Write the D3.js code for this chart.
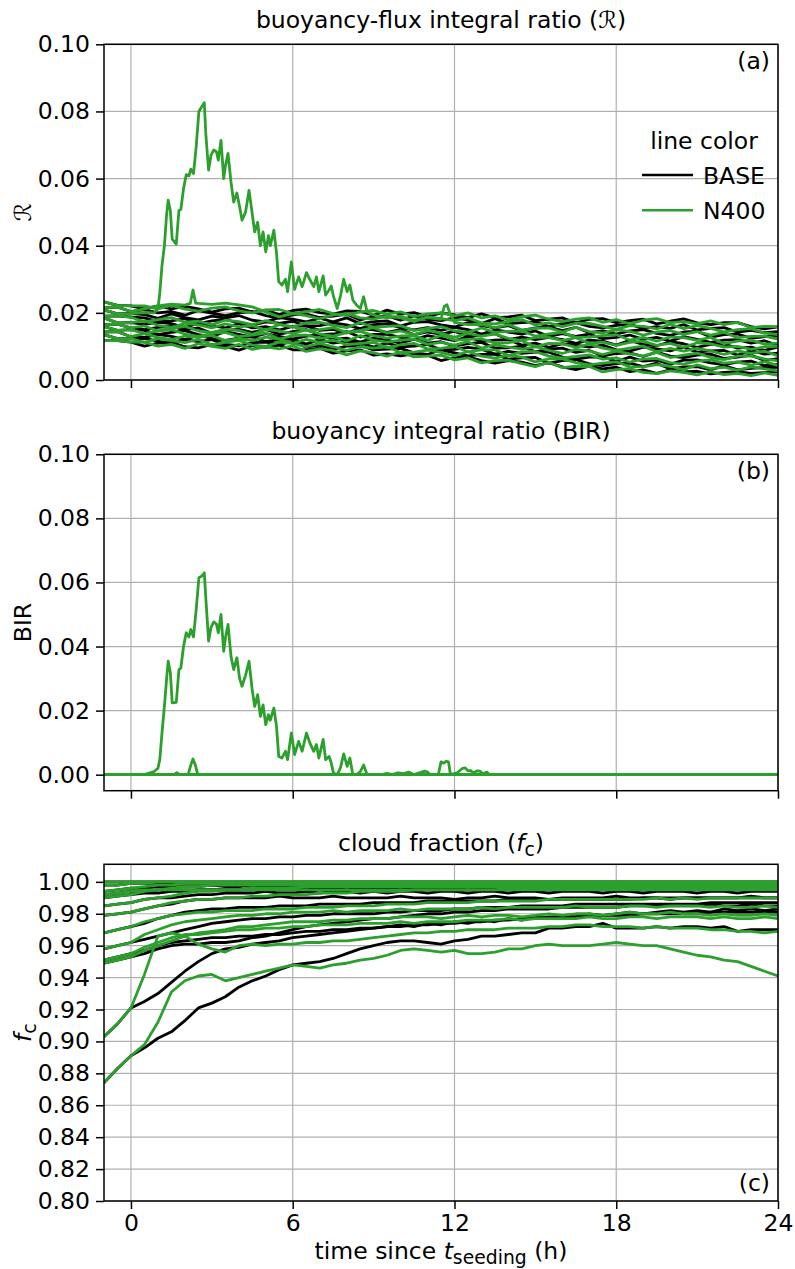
<!DOCTYPE html>
<html><head><meta charset="utf-8">
<script src="https://cdn.jsdelivr.net/npm/d3@7"></script>
<style>body{margin:0;background:#fff} text{font-family:"DejaVu Sans",sans-serif;fill:#000}</style>
</head><body><svg id="fig" width="795" height="1269"></svg>
<script>
// ---------------- DATA ----------------
const hours = [-1,-0.5,0,0.5,1,1.5,2,2.5,3,3.5,4,4.5,5,5.5,6,6.5,7,7.5,8,8.5,9,9.5,10,10.5,11,11.5,12,12.5,13,13.5,14,14.5,15,15.5,16,16.5,17,17.5,18,18.5,19,19.5,20,20.5,21,21.5,22,22.5,23,23.5,24];
const xTicks = [0,6,12,18,24];
const yTicksAB = [0,0.02,0.04,0.06,0.08,0.10];
const yTicksC = [0.80,0.82,0.84,0.86,0.88,0.90,0.92,0.94,0.96,0.98,1.00];
const seriesNames = ["BASE","N400"];

// panel (a): buoyancy-flux integral ratio R, ensemble members A1..A10 (b = BASE, n = N400)
const rA1n=[.0233,.0222,.0221,.0221,.0212,.0222,.0211,.0205,.0214,.0218,.0206,.0200,.0209,.0210,.0198,.0204,.0210,.0198,.0192,.0203,.0207,.0196,.0203,.0189,.0197,.0200,.0191,.0200,.0185,.0191,.0179,.0189,.0193,.0181,.0174,.0181,.0185,.0172,.0180,.0167,.0178,.0183,.0171,.0174,.0167,.0176,.0165,.0172,.0156,.0160,.0159];
const rA1b=[.0233,.0222,.0221,.0212,.0221,.0212,.0219,.0212,.0202,.0212,.0214,.0202,.0208,.0195,.0207,.0211,.0201,.0196,.0206,.0204,.0193,.0208,.0196,.0201,.0188,.0200,.0194,.0186,.0197,.0185,.0188,.0193,.0177,.0181,.0185,.0170,.0181,.0183,.0171,.0177,.0181,.0167,.0175,.0182,.0170,.0165,.0171,.0171,.0159,.0152,.0158];
const rA2n=[.0216,.0217,.0204,.0212,.0221,.0226,.0223,.0228,.0225,.0229,.0224,.0218,.0203,.0188,.0198,.0192,.0182,.0194,.0198,.0185,.0181,.0190,.0185,.0174,.0188,.0183,.0177,.0185,.0170,.0167,.0174,.0180,.0164,.0170,.0159,.0169,.0169,.0160,.0151,.0162,.0160,.0152,.0166,.0153,.0162,.0154,.0143,.0150,.0153,.0140,.0135];
const rA2nBumpHours=[2.2,2.3,2.4];
const rA2nBump=[.0228,.0268,.0229];
const rA2b=[.0216,.0217,.0204,.0210,.0200,.0204,.0193,.0207,.0199,.0192,.0200,.0204,.0192,.0184,.0194,.0196,.0186,.0190,.0196,.0179,.0189,.0191,.0178,.0191,.0181,.0177,.0185,.0179,.0168,.0183,.0168,.0171,.0173,.0159,.0168,.0171,.0160,.0155,.0163,.0166,.0153,.0159,.0154,.0165,.0149,.0154,.0156,.0143,.0148,.0141,.0144];
const rA3n=[.0209,.0197,.0198,.0201,null,null,null,null,null,null,null,null,null,null,null,null,null,null,null,null,null,.0185,.0190,.0178,.0186,.0181,.0172,.0165,.0166,.0156,.0165,.0149,.0154,.0155,.0143,.0157,.0144,.0140,.0149,.0145,.0134,.0143,.0147,.0136,.0144,.0134,.0142,.0126,.0130,.0131,.0122];
const rA3nBumpHours=[11.62,11.72,11.82];
const rA3nBump=[.0219,.0224,.0201];
const rA3b=[.0209,.0197,.0198,.0195,.0184,.0197,.0186,.0179,.0190,.0185,.0192,.0178,.0173,.0186,.0181,.0173,.0184,.0173,.0185,.0168,.0174,.0176,.0161,.0172,.0174,.0164,.0158,.0171,.0162,.0155,.0162,.0147,.0155,.0158,.0147,.0157,.0141,.0146,.0137,.0146,.0150,.0139,.0133,.0143,.0145,.0128,.0135,.0137,.0125,.0129,.0131];
const rA4n=[.0190,.0191,.0187,.0173,.0180,.0186,.0172,.0175,.0165,.0178,.0174,.0165,.0177,.0166,.0158,.0170,.0172,.0163,.0156,.0171,.0157,.0160,.0162,.0147,.0154,.0159,.0146,.0142,.0155,.0142,.0145,.0146,.0131,.0137,.0142,.0127,.0128,.0132,.0135,.0119,.0127,.0116,.0128,.0126,.0118,.0127,.0108,.0116,.0119,.0107,.0110];
const rA4b=[.0190,.0191,.0187,.0185,.0174,.0176,.0183,.0168,.0176,.0181,.0169,.0163,.0173,.0169,.0175,.0161,.0162,.0170,.0164,.0153,.0165,.0167,.0156,.0149,.0156,.0148,.0157,.0150,.0137,.0149,.0143,.0137,.0146,.0130,.0138,.0130,.0137,.0123,.0127,.0134,.0121,.0127,.0116,.0129,.0121,.0112,.0119,.0120,.0110,.0117,.0103];
const rA5n=[.0185,.0170,.0171,.0176,.0163,.0156,.0169,.0164,.0155,.0167,.0158,.0162,.0149,.0165,.0158,.0148,.0150,.0156,.0142,.0148,.0156,.0140,.0146,.0135,.0147,.0140,.0127,.0139,.0131,.0137,.0124,.0117,.0127,.0127,.0117,.0126,.0109,.0113,.0103,.0112,.0116,.0103,.0109,.0097,.0111,.0108,.0098,.0100,.0091,.0099,.0100];
const rA5b=[.0185,.0170,.0171,.0166,.0172,.0168,.0156,.0169,.0162,.0155,.0168,.0155,.0159,.0149,.0160,.0161,.0148,.0151,.0140,.0153,.0149,.0142,.0150,.0135,.0143,.0137,.0145,.0129,.0134,.0138,.0120,.0128,.0120,.0127,.0120,.0109,.0119,.0116,.0104,.0118,.0106,.0102,.0114,.0108,.0097,.0106,.0107,.0095,.0098,.0088,.0098];
const rA6n=[.0165,.0166,.0155,.0161,.0146,.0154,.0160,.0146,.0142,.0151,.0147,.0136,.0151,.0146,.0138,.0149,.0137,.0131,.0141,.0145,.0132,.0125,.0131,.0132,.0118,.0133,.0119,.0121,.0123,.0110,.0111,.0117,.0099,.0109,.0108,.0097,.0107,.0095,.0088,.0095,.0101,.0084,.0094,.0086,.0094,.0087,.0076,.0087,.0079,.0086,.0072];
const rA6b=[.0165,.0166,.0155,.0150,.0157,.0160,.0149,.0155,.0139,.0148,.0151,.0142,.0151,.0137,.0144,.0150,.0135,.0137,.0144,.0128,.0136,.0136,.0127,.0120,.0132,.0125,.0117,.0129,.0114,.0119,.0120,.0104,.0110,.0097,.0108,.0104,.0098,.0104,.0090,.0086,.0098,.0093,.0087,.0098,.0083,.0087,.0088,.0074,.0088,.0077,.0080];
const rA7n=[.0159,.0148,.0150,.0138,.0146,.0150,.0137,.0130,.0139,.0142,.0129,.0134,.0140,.0122,.0132,.0134,.0124,.0129,.0116,.0132,.0119,.0113,.0119,.0122,.0106,.0112,.0104,.0114,.0095,.0105,.0098,.0092,.0099,.0088,.0079,.0091,.0086,.0076,.0086,.0078,.0072,.0082,.0067,.0074,.0080,.0067,.0061,.0071,.0071,.0063,.0057];
const rA7b=[.0159,.0148,.0150,.0148,.0135,.0142,.0147,.0135,.0130,.0144,.0136,.0128,.0138,.0130,.0122,.0131,.0134,.0121,.0125,.0113,.0125,.0119,.0110,.0122,.0110,.0114,.0101,.0108,.0112,.0095,.0096,.0101,.0084,.0092,.0095,.0082,.0088,.0072,.0079,.0081,.0070,.0083,.0071,.0067,.0074,.0077,.0064,.0068,.0074,.0058,.0064];
const rA8n=[.0143,.0144,.0129,.0138,.0127,.0120,.0131,.0127,.0133,.0117,.0123,.0117,.0128,.0122,.0109,.0121,.0112,.0119,.0105,.0109,.0112,.0096,.0105,.0109,.0093,.0094,.0100,.0084,.0090,.0090,.0073,.0084,.0085,.0071,.0066,.0070,.0075,.0062,.0066,.0053,.0062,.0064,.0052,.0047,.0056,.0060,.0050,.0054,.0044,.0055,.0043];
const rA8b=[.0143,.0144,.0129,.0127,.0136,.0130,.0120,.0134,.0123,.0118,.0125,.0129,.0114,.0120,.0122,.0107,.0121,.0110,.0115,.0111,.0098,.0110,.0099,.0101,.0106,.0090,.0091,.0097,.0092,.0077,.0085,.0079,.0083,.0083,.0068,.0062,.0068,.0069,.0055,.0068,.0056,.0059,.0047,.0059,.0060,.0051,.0046,.0053,.0056,.0043,.0047];
const rA9n=[.0135,.0123,.0123,.0112,.0123,.0117,.0111,.0121,.0105,.0112,.0118,.0104,.0100,.0113,.0109,.0099,.0109,.0099,.0088,.0099,.0095,.0099,.0082,.0083,.0089,.0082,.0072,.0085,.0071,.0065,.0074,.0068,.0054,.0063,.0063,.0052,.0045,.0050,.0054,.0040,.0039,.0046,.0041,.0031,.0045,.0034,.0038,.0029,.0039,.0033,.0027];
const rA9b=[.0135,.0123,.0123,.0124,.0116,.0108,.0120,.0114,.0120,.0106,.0102,.0111,.0113,.0106,.0114,.0098,.0104,.0091,.0101,.0102,.0090,.0092,.0094,.0081,.0076,.0090,.0081,.0072,.0076,.0077,.0062,.0066,.0067,.0050,.0058,.0061,.0048,.0043,.0049,.0050,.0040,.0050,.0033,.0039,.0040,.0030,.0043,.0030,.0035,.0037,.0038];
const rA10n=[.0117,.0117,.0113,.0113,.0101,.0106,.0094,.0108,.0100,.0094,.0106,.0091,.0099,.0093,.0102,.0085,.0093,.0088,.0075,.0087,.0081,.0071,.0083,.0069,.0071,.0074,.0060,.0066,.0051,.0058,.0059,.0049,.0040,.0053,.0037,.0041,.0040,.0024,.0031,.0034,.0023,.0019,.0027,.0023,.0015,.0025,.0016,.0020,.0013,.0021,.0014];
const rA10b=[.0117,.0117,.0113,.0101,.0110,.0112,.0099,.0096,.0106,.0100,.0089,.0102,.0097,.0104,.0090,.0090,.0095,.0080,.0087,.0090,.0074,.0078,.0072,.0078,.0074,.0058,.0067,.0069,.0058,.0050,.0058,.0053,.0043,.0052,.0039,.0031,.0041,.0033,.0038,.0025,.0030,.0020,.0030,.0024,.0026,.0018,.0023,.0025,.0020,.0022,.0024];

// seeded-cloud event of member A3 (N400): R (panel a) and BIR (panel b)
const spikeHours=[0.86,1.0,1.07,1.15,1.24,1.32,1.38,1.46,1.53,1.68,1.78,1.85,1.95,2.05,2.15,2.22,2.32,2.42,2.52,2.63,2.72,2.78,2.88,2.97,3.07,3.17,3.24,3.34,3.44,3.51,3.6,3.71,3.81,3.93,4.03,4.12,4.25,4.38,4.49,4.59,4.7,4.8,4.9,5.0,5.1,5.17,5.3,5.4,5.48,5.6,5.73,5.81,5.95,6.07,6.22,6.35,6.51,6.63,6.78,6.88,6.97,7.13,7.22,7.35,7.43,7.51,7.65,7.77,7.89,8.02,8.12,8.23,8.37,8.51,8.63,8.76,9.0];
const spikeR=[.0200,.0212,.0260,.0340,.0400,.0490,.0536,.0505,.0420,.0405,.0505,.0508,.0570,.0612,.0608,.0628,.0615,.0695,.0800,.0815,.0826,.0729,.0625,.0670,.0685,.0680,.0655,.0714,.0600,.0640,.0675,.0590,.0530,.0557,.0516,.0476,.0500,.0565,.0500,.0441,.0470,.0400,.0441,.0382,.0430,.0400,.0446,.0377,.0293,.0283,.0300,.0263,.0352,.0270,.0307,.0278,.0320,.0300,.0278,.0307,.0263,.0310,.0253,.0268,.0280,.0250,.0213,.0250,.0300,.0263,.0283,.0238,.0223,.0213,.0248,.0203,.0193];
const spikeBIR=[.0010,.0020,.0047,.0130,.0213,.0297,.0354,.0320,.0224,.0226,.0328,.0333,.0400,.0443,.0430,.0453,.0430,.0516,.0615,.0620,.0630,.0547,.0417,.0460,.0477,.0470,.0443,.0500,.0385,.0430,.0469,.0370,.0328,.0365,.0300,.0276,.0310,.0354,.0270,.0213,.0250,.0182,.0218,.0156,.0187,.0170,.0208,.0150,.0057,.0052,.0073,.0047,.0130,.0063,.0104,.0073,.0130,.0100,.0073,.0094,.0052,.0110,.0047,.0057,.0036,.0005,.0000,.0021,.0065,.0026,.0052,.0000,.0000,.0010,.0030,.0000,.0000];
const birHeadHours=[-1,0.5];
const birHead=[0,0];
const birTailHours=[9.3,9.5,9.7,9.9,10.1,10.3,10.5,10.9,11.0,11.1,11.4,11.5,11.6,11.7,11.78,11.85,12.1,12.3,12.4,12.5,12.6,12.7,12.85,12.95,13.05,13.2,13.3,24];
const birTail=[0,.0004,0,.0006,.0003,.0008,0,.0011,.0008,0,0,.0040,.0036,.0042,.0040,0,.0006,.0020,.0021,.0012,.0013,.0005,.0012,.0011,.0003,.0008,0,0];
const birA2Hours=[-1,1.6,1.7,1.8,2.12,2.22,2.3,2.38,2.48,24];
const birA2=[0,0,.0006,0,0,.0030,.0049,.0032,0,0];
const birZeroHours=[-1,24];
const birZero=[0,0];

// panel (c): cloud fraction, members C1..C13
const fC1n=[.874,.883,.891,.898,.912,.931,.938,.941,.942,.938,.940,.942,.944,.946,.948,.947,.946,.948,.949,.951,.952,.954,.957,.958,.957,.956,.957,.955,.955,.956,.958,.958,.960,.961,.960,.960,.960,.961,.962,.961,.960,.960,.958,.956,.954,.953,.951,.950,.947,.944,.941];
const fC1b=[.874,.883,.891,.896,.902,.906,.913,.921,.924,.928,.934,.938,.941,.945,.948,.949,.950,.952,.955,.958,.960,.962,.963,.963,.962,.961,.963,.964,.966,.966,.967,.968,.968,.971,.971,.972,.972,.974,.971,.971,.971,.972,.971,.972,.972,.971,.972,.969,.970,.970,.970];
const fC2n=[.903,.911,.921,.942,.966,.968,.966,.961,.958,.956,.960,.961,.960,.961,.961,.962,.962,.963,.963,.964,.965,.966,.967,.968,.968,.969,.969,.970,.970,.970,.971,.971,.971,.972,.972,.973,.973,.972,.972,.972,.971,.972,.971,.971,.971,.970,.970,.969,.969,.968,.969];
const fC2b=[.903,.911,.921,.925,.930,.937,.944,.950,.955,.958,.959,.961,.962,.963,.965,.966,.967,.968,.969,.970,.971,.972,.973,.972,.974,.973,.975,.974,.976,.975,.977,.976,.978,.977,.979,.978,.980,.979,.980,.981,.980,.981,.982,.981,.982,.981,.983,.982,.983,.982,.983];
const fC3n=[.949,.951,.953,.957,.960,.963,.966,.968,.969,.970,.972,.972,.973,.974,.975,.975,.975,.976,.976,.977,.977,.977,.978,.978,.978,.977,.978,.979,.978,.979,.979,.978,.979,.980,.979,.980,.980,.979,.980,.981,.980,.980,.981,.980,.980,.979,.980,.979,.979,.980,.979];
const fC3b=[.949,.951,.953,.955,.958,.960,.961,.961,.962,.962,.963,.965,.966,.968,.970,.972,.973,.974,.975,.976,.977,.977,.978,.979,.980,.980,.981,.981,.982,.982,.983,.983,.983,.983,.984,.984,.984,.984,.984,.985,.985,.985,.985,.985,.985,.986,.985,.985,.986,.985,.985];
const fC4n=[.951,.953,.955,.959,.962,.965,.967,.967,.968,.969,.970,.970,.971,.971,.972,.972,.973,.973,.973,.974,.974,.974,.975,.974,.975,.975,.975,.976,.976,.976,.977,.976,.977,.977,.977,.977,.978,.977,.977,.978,.978,.977,.978,.978,.978,.977,.978,.977,.977,.978,.977];
const fC4b=[.951,.953,.955,.957,.960,.962,.963,.964,.965,.965,.966,.966,.967,.967,.968,.969,.969,.970,.970,.971,.971,.972,.972,.973,.973,.974,.974,.975,.975,.976,.976,.977,.977,.978,.978,.978,.979,.979,.979,.979,.980,.980,.980,.980,.980,.981,.981,.981,.981,.981,.981];
const fC5n=[.958,.960,.962,.967,.970,.973,.975,.976,.977,.978,.979,.979,.980,.980,.981,.981,.981,.982,.981,.982,.982,.982,.983,.982,.983,.983,.983,.983,.984,.983,.984,.984,.984,.984,.984,.985,.984,.984,.984,.985,.985,.984,.985,.985,.985,.984,.985,.984,.984,.985,.984];
const fC5b=[.958,.960,.962,.964,.966,.968,.970,.972,.974,.975,.976,.977,.977,.978,.978,.979,.979,.980,.980,.980,.980,.981,.981,.982,.982,.982,.983,.983,.984,.984,.984,.985,.985,.985,.985,.986,.986,.986,.986,.986,.986,.986,.986,.986,.986,.987,.987,.987,.987,.987,.987];
const fC6n=[.968,.970,.972,.975,.977,.979,.980,.981,.981,.982,.982,.982,.983,.983,.983,.984,.984,.984,.985,.985,.985,.986,.986,.986,.987,.987,.987,.987,.988,.988,.988,.988,.988,.989,.989,.989,.989,.989,.989,.989,.989,.990,.989,.990,.989,.990,.990,.990,.990,.990,.990];
const fC6b=[.968,.970,.972,.974,.977,.979,.981,.982,.983,.983,.984,.984,.984,.985,.985,.985,.986,.986,.986,.986,.987,.987,.987,.987,.988,.988,.988,.988,.988,.988,.989,.989,.989,.989,.989,.989,.989,.989,.989,.989,.990,.990,.990,.990,.990,.990,.990,.990,.990,.990,.990];
const fC7n=[.979,.980,.981,.983,.985,.987,.988,.989,.989,.990,.990,.991,.991,.992,.992,.992,.993,.993,.993,.994,.994,.994,.994,.995,.995,.995,.995,.995,.995,.995,.996,.996,.996,.996,.996,.996,.996,.996,.996,.996,.996,.996,.996,.996,.996,.996,.996,.996,.996,.996,.996];
const fC7b=[.979,.980,.981,.983,.985,.986,.988,.989,.989,.990,.990,.990,.990,.991,.990,.990,.990,.991,.990,.990,.990,.990,.991,.990,.990,.990,.989,.990,.990,.991,.990,.990,.990,.989,.990,.990,.990,.990,.991,.990,.990,.990,.989,.990,.990,.990,.990,.990,.991,.990,.990];
const fC8n=[.985,.986,.987,.989,.990,.991,.993,.994,.994,.995,.995,.996,.996,.996,.996,.997,.997,.997,.997,.997,.997,.997,.997,.997,.997,.997,.997,.997,.997,.997,.997,.997,.997,.997,.997,.997,.997,.997,.997,.997,.997,.997,.997,.997,.997,.997,.997,.997,.997,.997,.997];
const fC8b=[.985,.986,.987,.989,.990,.990,.991,.992,.992,.993,.993,.993,.994,.993,.993,.994,.993,.994,.994,.993,.994,.993,.994,.994,.993,.994,.994,.993,.994,.994,.993,.994,.994,.993,.994,.994,.994,.993,.994,.994,.993,.994,.994,.994,.993,.994,.994,.993,.994,.994,.994];
const fC9n=[.990,.991,.992,.994,.995,.996,.997,.997,.998,.998,.998,.998,.998,.998,.998,.998,.998,.998,.998,.998,.998,.998,.998,.998,.998,.998,.998,.998,.998,.998,.998,.998,.998,.998,.998,.998,.998,.998,.998,.998,.998,.998,.998,.998,.998,.998,.998,.998,.998,.998,.998];
const fC9b=[.990,.991,.992,.993,.993,.994,.994,.995,.995,.995,.995,.996,.995,.995,.996,.995,.996,.996,.995,.996,.996,.996,.995,.996,.996,.996,.996,.995,.996,.996,.996,.996,.996,.995,.996,.996,.996,.996,.996,.996,.995,.996,.996,.996,.996,.996,.996,.996,.995,.996,.996];
const fC10n=[.994,.995,.996,.997,.998,.998,.999,.999,.999,.999,.999,.999,.999,.999,.999,.999,.999,.999,.999,.999,.999,.999,.999,.999,.999,.999,.999,.999,.999,.999,.999,.999,.999,.999,.999,.999,.999,.999,.999,.999,.999,.999,.999,.999,.999,.999,.999,.999,.999,.999,.999];
const fC10b=[.994,.995,.996,.996,.997,.997,.997,.997,.998,.997,.997,.998,.997,.997,.998,.997,.998,.997,.997,.998,.997,.998,.998,.997,.998,.997,.998,.998,.997,.998,.998,.997,.998,.998,.998,.997,.998,.998,.997,.998,.998,.998,.997,.998,.998,.998,.998,.997,.998,.998,.998];
const fC11n=[.998,.998,.999,.999,1.0,1.0,1.0,1.0,1.0,1.0,1.0,1.0,1.0,1.0,1.0,1.0,1.0,1.0,1.0,1.0,1.0,1.0,1.0,1.0,1.0,1.0,1.0,1.0,1.0,1.0,1.0,1.0,1.0,1.0,1.0,1.0,1.0,1.0,1.0,1.0,1.0,1.0,1.0,1.0,1.0,1.0,1.0,1.0,1.0,1.0,1.0];
const fC11b=[.998,.998,.999,.999,.999,.999,.999,.999,.999,.999,.999,.999,.999,.999,.999,.999,.999,.999,.999,.999,.999,.999,.999,.999,.999,.999,.999,.999,.999,.999,.999,.999,.999,.999,.999,.999,.999,.999,.999,.999,.999,.999,.999,.999,.999,.999,.999,.999,.999,.999,.999];
const fC12n=[1.0,1.0,1.0,1.0,1.0,1.0,1.0,1.0,1.0,1.0,1.0,1.0,1.0,1.0,1.0,1.0,1.0,1.0,1.0,1.0,1.0,1.0,1.0,1.0,1.0,1.0,1.0,1.0,1.0,1.0,1.0,1.0,1.0,1.0,1.0,1.0,1.0,1.0,1.0,1.0,1.0,1.0,1.0,1.0,1.0,1.0,1.0,1.0,1.0,1.0,1.0];
const fC12b=fC12n.slice();
const fC13n=[.992,.993,.994,.995,.995,.995,.995,.995,.995,.995,.995,.995,.995,.995,.995,.995,.995,.995,.995,.995,.995,.995,.995,.995,.995,.995,.995,.995,.995,.995,.995,.995,.995,.995,.995,.995,.995,.995,.995,.995,.995,.995,.995,.995,.995,.995,.995,.995,.995,.995,.995];
const fC13b=[.992,.993,.994,.994,.995,.995,.995,.995,.995,.995,.995,.995,.995,.995,.995,.995,.995,.995,.995,.995,.995,.995,.995,.995,.995,.995,.995,.995,.995,.995,.995,.995,.995,.995,.995,.995,.995,.995,.995,.995,.995,.995,.995,.995,.995,.995,.995,.995,.995,.995,.995];

// ---------------- BUILD ----------------
const colors = {BASE:"#000000", N400:"#2ca02c"};
const ser = (hs, vs) => hs.map((h,i)=>[h, vs[i]]).filter(d=>d[1]!==null && d[1]!==undefined);
const merge = (...parts) => parts.flat().sort((a,b)=>a[0]-b[0]);

const panelA = {
  BASE: [rA1b,rA2b,rA3b,rA4b,rA5b,rA6b,rA7b,rA8b,rA9b,rA10b].map(v=>ser(hours,v)),
  N400: [ser(hours,rA1n),
         merge(ser(hours,rA2n), ser(rA2nBumpHours,rA2nBump)),
         merge(ser(hours,rA3n), ser(spikeHours,spikeR), ser(rA3nBumpHours,rA3nBump)),
         ...[rA4n,rA5n,rA6n,rA7n,rA8n,rA9n,rA10n].map(v=>ser(hours,v))]
};
const zeroB = () => ser(birZeroHours, birZero);
const panelB = {
  BASE: d3.range(10).map(zeroB),
  N400: [zeroB(), ser(birA2Hours,birA2),
         merge(ser(birHeadHours,birHead), ser(spikeHours,spikeBIR), ser(birTailHours,birTail)),
         ...d3.range(7).map(zeroB)]
};
const panelC = {
  BASE: [fC1b,fC2b,fC3b,fC4b,fC5b,fC6b,fC7b,fC8b,fC9b,fC10b,fC11b,fC12b,fC13b].map(v=>ser(hours,v)),
  N400: [fC1n,fC2n,fC3n,fC4n,fC5n,fC6n,fC7n,fC8n,fC9n,fC10n,fC11n,fC12n,fC13n].map(v=>ser(hours,v))
};

// ---------------- DRAW ----------------
const svg = d3.select("#fig");
const FS = 23.5;
const SUB = 0.8;
const LW = 2.8;
const L = 104, R = 778;
const x = d3.scaleLinear().domain([-1,24]).range([L,R]);

const panels = [
  {id:"a", top:44.3, bot:380, dom:[0,0.1], yt:yTicksAB, data:panelA, tlY:28, labY:69},
  {id:"b", top:454.3, bot:790.7, dom:[-0.005,0.1], yt:yTicksAB, data:panelB, tlY:439, labY:479},
  {id:"c", top:864.3, bot:1201, dom:[0.8,1.011], yt:yTicksC, data:panelC, tlY:851, labY:1190.5}
];

panels.forEach((p, pi) => {
  const y = d3.scaleLinear().domain(p.dom).range([p.bot, p.top]);
  const g = svg.append("g");
  // grid
  g.append("g").selectAll("line").data(xTicks).join("line")
    .attr("x1",d=>x(d)).attr("x2",d=>x(d)).attr("y1",p.top).attr("y2",p.bot)
    .attr("stroke","#b0b0b0").attr("stroke-width",1.2);
  g.append("g").selectAll("line").data(p.yt).join("line")
    .attr("x1",L).attr("x2",R).attr("y1",d=>y(d)).attr("y2",d=>y(d))
    .attr("stroke","#b0b0b0").attr("stroke-width",1.2);
  // clip
  svg.append("clipPath").attr("id","clip"+p.id).append("rect")
    .attr("x",L).attr("y",p.top).attr("width",R-L).attr("height",p.bot-p.top);
  const line = d3.line().x(d=>x(d[0])).y(d=>y(d[1]));
  const lg = g.append("g").attr("clip-path","url(#clip"+p.id+")");
  seriesNames.forEach(s => {
    lg.append("g").selectAll("path").data(p.data[s]).join("path")
      .attr("d", line).attr("fill","none").attr("stroke",colors[s])
      .attr("stroke-width",LW).attr("stroke-linejoin","round").attr("stroke-linecap","butt");
  });
  // axes
  const ay = g.append("g").attr("transform",`translate(${L},0)`)
    .call(d3.axisLeft(y).tickValues(p.yt).tickFormat(d3.format(".2f")).tickSize(8).tickPadding(6));
  const ax = g.append("g").attr("transform",`translate(0,${p.bot})`)
    .call(d3.axisBottom(x).tickValues(xTicks).tickFormat(pi===2? d3.format("d") : ()=>"").tickSize(8).tickPadding(5));
  [ay,ax].forEach(a=>{
    a.select(".domain").remove();
    a.selectAll(".tick line").attr("stroke","#000").attr("stroke-width",1.5);
    a.selectAll(".tick text").attr("font-size",FS).attr("font-family","DejaVu Sans").attr("fill","#000");
  });
  // spines
  g.append("rect").attr("x",L).attr("y",p.top).attr("width",R-L).attr("height",p.bot-p.top)
    .attr("fill","none").attr("stroke","#000").attr("stroke-width",1.5);
  // panel label
  g.append("text").attr("x",R-8).attr("y",p.labY).attr("text-anchor","end")
    .attr("font-size",FS).text("("+p.id+")");
  // titles
  const t = g.append("text").attr("x",(L+R)/2).attr("y",p.tlY).attr("text-anchor","middle").attr("font-size",FS);
  const yl = g.append("text").attr("transform",`translate(31,${(p.top+p.bot)/2}) rotate(-90)`)
    .attr("text-anchor","middle").attr("font-size",FS);
  if (p.id==="a") {
    t.text("buoyancy-flux integral ratio (\u211B)");
    yl.text("\u211B");
  } else if (p.id==="b") {
    t.text("buoyancy integral ratio (BIR)");
    yl.text("BIR");
  } else {
    t.append("tspan").text("cloud fraction (");
    t.append("tspan").attr("font-style","italic").text("f");
    t.append("tspan").attr("font-size",FS*SUB).attr("dy",5).text("c");
    t.append("tspan").attr("dy",-5).text(")");
    yl.append("tspan").attr("font-style","italic").text("f");
    yl.append("tspan").attr("font-size",FS*SUB).attr("dy",5).text("c");
  }
});

// x label
const xl = svg.append("text").attr("x",(L+R)/2).attr("y",1259).attr("text-anchor","middle").attr("font-size",FS);
xl.append("tspan").text("time since ");
xl.append("tspan").attr("font-style","italic").text("t");
xl.append("tspan").attr("font-size",FS*SUB).attr("dy",5).text("seeding");
xl.append("tspan").attr("dy",-5).text(" (h)");

// legend in panel (a)
const leg = svg.append("g");
leg.append("text").attr("x",704).attr("y",149).attr("text-anchor","middle").attr("font-size",FS).text("line color");
seriesNames.forEach((s,i)=>{
  const yy = 175 + i*35.3;
  leg.append("line").attr("x1",642).attr("x2",693).attr("y1",yy).attr("y2",yy)
    .attr("stroke",colors[s]).attr("stroke-width",2.6);
  leg.append("text").attr("x",703).attr("y",yy+8.5).attr("font-size",FS).text(s);
});
</script>
</body></html>
